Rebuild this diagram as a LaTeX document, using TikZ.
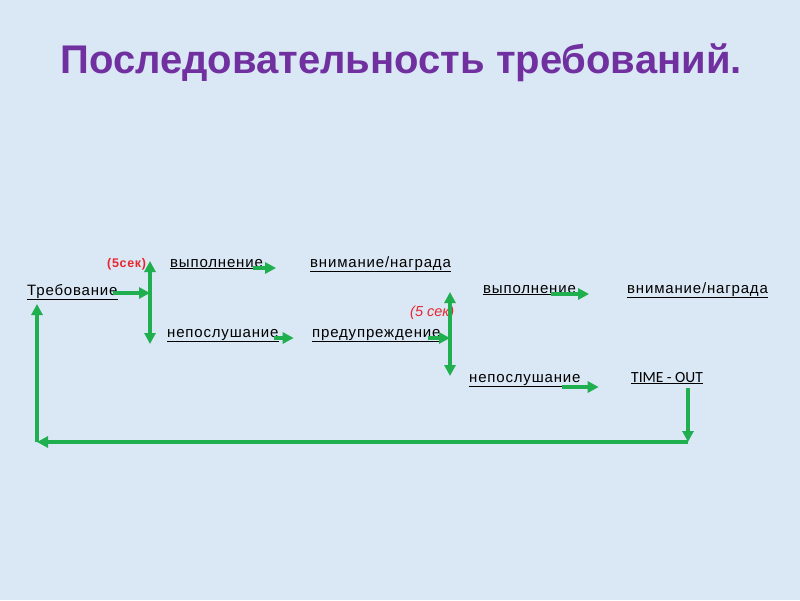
\documentclass[tikz,border=0pt]{standalone}
\usepackage{fontspec}
\setmainfont{Liberation Sans}
\newfontfamily\widesans[LetterSpace=5.5]{Liberation Sans}
\newfontfamily\calib{Carlito}
\usetikzlibrary{arrows.meta}
\definecolor{bgblue}{HTML}{DAE7F4}
\definecolor{grn}{HTML}{1FAF4E}
\definecolor{ttl}{HTML}{7030A0}
\definecolor{secred}{HTML}{E8262E}
\begin{document}
\begin{tikzpicture}[x=1pt,y=-1pt,
  lbl/.style={anchor=base west, inner sep=0pt, font=\fontsize{15}{17}\selectfont\widesans, text=black},
  secl/.style={anchor=base west, inner sep=0pt, text=secred},
  arr/.style={draw=grn, line width=3.2pt, -{Triangle[length=11pt,width=11pt]}},
  darr/.style={draw=grn, line width=3.2pt, {Triangle[length=11pt,width=11pt]}-{Triangle[length=11pt,width=11pt]}}]
\fill[bgblue] (0,0) rectangle (800,600);
\useasboundingbox (0,0) rectangle (800,600);
\node[anchor=base, inner sep=0pt, font=\fontsize{40}{48}\selectfont\bfseries, text=ttl] (title) at (401,73) {Последовательность требований.};
\node[lbl] (treb) at (27,295) {\underline{Требование}};
\node[secl, font=\fontsize{12.5}{14}\selectfont\widesans\bfseries] (s1) at (107,267) {(5сек)};
\node[lbl] (vyp1) at (170,267) {\underline{выполнение}};
\node[lbl] (vn1) at (310,267) {\underline{внимание/награда}};
\node[lbl] (nep1) at (167,337) {\underline{непослушание}};
\node[lbl] (pred) at (312,337) {\underline{предупреждение}};
\node[secl, font=\fontsize{14.5}{16}\selectfont\itshape] (s2) at (410,316) {(5 сек)};
\node[lbl] (vyp2) at (483,293) {\underline{выполнение}};
\node[lbl] (vn2) at (627,293) {\underline{внимание/награда}};
\node[lbl] (nep2) at (469,382) {\underline{непослушание}};
\node[lbl, font=\fontsize{15.5}{17}\selectfont\calib] (to) at (631,382) {\underline{TIME - OUT}};
\coordinate (b1) at (150,293);
\coordinate (b1t) at (150,261);
\coordinate (b1b) at (150,344);
\coordinate (b2) at (450,338);
\coordinate (b2t) at (450,292);
\coordinate (b2b) at (450,376);
\coordinate (toD) at (688,388);
\coordinate (loopR) at (688,442);
\coordinate (loopL) at (37,442);
\coordinate (trebin) at (37,304);
\draw[darr] (b1t) -- (b1b);
\draw[darr] (b2t) -- (b2b);
\draw[arr] ([shift={(-5,-2)}]treb.base east) -- (b1);
\draw[arr] ([shift={(-10,1)}]vyp1.base east) -- ++(23,0);
\draw[arr] ([shift={(-5,1)}]nep1.base east) -- ++(20,0);
\draw[arr] ([shift={(-13,1)}]pred.base east) -- (b2);
\draw[arr] ([shift={(-25,1)}]vyp2.base east) -- ++(38,0);
\draw[arr] ([shift={(-19,5)}]nep2.base east) -- ++(37,0);
\draw[arr] (toD) -- (loopR);
\draw[arr] (loopR) -- (loopL);
\draw[arr] (loopL) -- (trebin);
\end{tikzpicture}
\end{document}
